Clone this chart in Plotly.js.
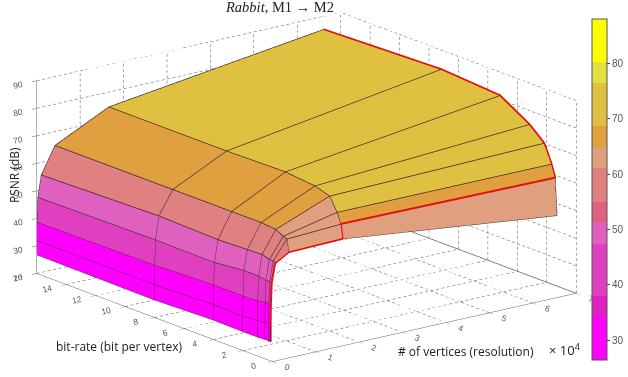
<!DOCTYPE html>
<html>
<head>
<meta charset="utf-8">
<script src="https://cdn.plot.ly/plotly-3.0.1.min.js"></script>
<style>html,body{margin:0;padding:0;background:#fff}</style>
</head>
<body>
<div id="myDiv" style="width:628px;height:377px"></div>
<script>
// resolution, x 10^4 vertices
var vertices = [0.0005, 0.002, 0.007, 0.026, 0.105, 0.42, 1.66, 6.6];
// bit per vertex
var bitRates = [0.125, 0.25, 0.5, 1, 2, 4, 8, 16];

// PSNR per bit-rate, one value for each resolution
var psnr0125 = [26.8, 33.0, 40.2, 48.0, 54.9, 57.8, 58.3, 49.3];
var psnr025 = [26.9, 33.5, 40.7, 48.4, 55.5, 62.4, 63.4, 62.7];
var psnr05 = [27.0, 33.0, 40.5, 48.4, 55.6, 62.9, 67.2, 67.2];
var psnr1 = [26.8, 32.9, 40.0, 48.8, 56.4, 64.4, 72.1, 73.8];
var psnr2 = [26.8, 32.4, 39.7, 48.9, 56.2, 64.9, 73.8, 78.6];
var psnr4 = [27.0, 32.6, 39.8, 47.8, 55.8, 64.9, 74.9, 85.1];
var psnr8 = [26.3, 31.9, 38.9, 48.0, 56.4, 64.9, 74.5, 86.6];
var psnr16 = [26.7, 31.9, 38.6, 47.5, 55.3, 64.9, 74.5, 85.1];
var psnr = [psnr0125, psnr025, psnr05, psnr1, psnr2, psnr4, psnr8, psnr16];

// optimal path, as indices into vertices and bitRates
var pathRes = [0, 1, 2, 3, 4, 5, 6, 6, 7, 7, 7, 7, 7, 7, 7];
var pathRate = [0, 0, 0, 0, 0, 0, 0, 1, 1, 2, 3, 4, 5, 6, 7];

var bandEdges = [26.4, 34.2, 38, 47.3, 51.3, 55, 61, 64.8, 68.7, 76.4, 80.3, 88];
var bandColors = ['rgb(255,0,255)', 'rgb(224,32,192)', 'rgb(224,64,192)', 'rgb(224,96,192)',
  'rgb(224,96,128)', 'rgb(224,128,128)', 'rgb(224,160,128)', 'rgb(224,160,64)',
  'rgb(224,192,64)', 'rgb(224,224,64)', 'rgb(255,255,0)'];

var xTicks = [0, 1, 2, 3, 4, 5, 6, 7];
var yTicks = [0, 2, 4, 6, 8, 10, 12, 14, 16];
var zTicks = [20, 30, 40, 50, 60, 70, 80, 90];

var nx = vertices.length, ny = bitRates.length;
var cmin = bandEdges[0], cmax = bandEdges[bandEdges.length - 1];

// stepped colour scale
var scale = [];
bandColors.forEach(function(c, n) {
  scale.push([(bandEdges[n] - cmin) / (cmax - cmin), c]);
  scale.push([(bandEdges[n + 1] - cmin) / (cmax - cmin), c]);
});

// vertices of the mesh
var vx = [], vy = [], vz = [];
for (var r = 0; r < ny; r++) {
  for (var c = 0; c < nx; c++) {
    vx.push(vertices[c]);
    vy.push(bitRates[r]);
    vz.push(psnr[r][c]);
  }
}

// two triangles per facet, coloured from one corner as surf does
var ti = [], tj = [], tk = [], cellColor = [];
for (r = 0; r < ny - 1; r++) {
  for (c = 0; c < nx - 1; c++) {
    var a = r * nx + c, b = a + 1, d = a + nx, e = d + 1;
    ti.push(a, a);
    tj.push(b, e);
    tk.push(e, d);
    cellColor.push(psnr[r + 1][c], psnr[r + 1][c]);
  }
}

var surface = {
  type: 'mesh3d',
  x: vx, y: vy, z: vz,
  i: ti, j: tj, k: tk,
  intensity: cellColor,
  intensitymode: 'cell',
  colorscale: scale,
  cmin: cmin, cmax: cmax,
  flatshading: true,
  lighting: {ambient: 1, diffuse: 0, specular: 0, fresnel: 0, roughness: 1},
  hoverinfo: 'skip',
  colorbar: {
    x: 592 / 628, xanchor: 'left', thickness: 15, thicknessmode: 'pixels',
    y: 0.5 - 0.5 * (19 + 360 - 377) / 377, yanchor: 'middle', len: 341 / 377, lenmode: 'fraction',
    tickvals: [30, 40, 50, 60, 70, 80],
    ticks: 'outside', ticklen: 3, tickcolor: '#444',
    tickfont: {family: 'Liberation Sans', size: 10, color: '#555'},
    outlinecolor: '#555', outlinewidth: 1, xpad: 0, ypad: 0
  }
};

// facet edges
var ex = [], ey = [], ez = [];
for (r = 0; r < ny; r++) {
  for (c = 0; c < nx; c++) { ex.push(vertices[c]); ey.push(bitRates[r]); ez.push(psnr[r][c] + 0.1); }
  ex.push(null); ey.push(null); ez.push(null);
}
for (c = 0; c < nx; c++) {
  for (r = 0; r < ny; r++) { ex.push(vertices[c]); ey.push(bitRates[r]); ez.push(psnr[r][c] + 0.1); }
  ex.push(null); ey.push(null); ez.push(null);
}
var edges = {
  type: 'scatter3d', mode: 'lines', x: ex, y: ey, z: ez,
  line: {color: '#3a2a2a', width: 1.5}, hoverinfo: 'skip', showlegend: false
};

var red = {
  type: 'scatter3d', mode: 'lines',
  x: pathRes.map(function(n) { return vertices[n]; }),
  y: pathRate.map(function(n) { return bitRates[n]; }),
  z: pathRes.map(function(n, m) { return psnr[pathRate[m]][n] + 0.2; }),
  line: {color: '#e01010', width: 4}, hoverinfo: 'skip', showlegend: false
};

// dashed box grid: floor and the two back walls, cut by hand into short pieces
var gx = [], gy = [], gz = [];
function seg(x0, y0, z0, x1, y1, z1, n) {
  for (var q = 0; q < n; q++) {
    var t0 = q / n, t1 = (q + 0.55) / n;
    gx.push(x0 + (x1 - x0) * t0, x0 + (x1 - x0) * t1, null);
    gy.push(y0 + (y1 - y0) * t0, y0 + (y1 - y0) * t1, null);
    gz.push(z0 + (z1 - z0) * t0, z0 + (z1 - z0) * t1, null);
  }
}
var xMax = 7, yMax = 16, zMin = 20, zMax = 90;
xTicks.forEach(function(t) {
  seg(t, 0, zMin, t, yMax, zMin, 46);
  seg(t, yMax, zMin, t, yMax, zMax, 36);
});
yTicks.forEach(function(t) {
  seg(0, t, zMin, xMax, t, zMin, 56);
  seg(xMax, t, zMin, xMax, t, zMax, 36);
});
zTicks.forEach(function(t) {
  seg(0, yMax, t, xMax, yMax, t, 56);
  seg(xMax, 0, t, xMax, yMax, t, 46);
});
var grid = {
  type: 'scatter3d', mode: 'lines', x: gx, y: gy, z: gz,
  line: {color: '#555', width: 1}, hoverinfo: 'skip', showlegend: false
};

// the floor edge behind the surface is solid
var floorEdge = {
  type: 'scatter3d', mode: 'lines',
  x: [xMax, xMax], y: [0, yMax], z: [zMin, zMin],
  line: {color: '#666', width: 1.5}, hoverinfo: 'skip', showlegend: false
};

function axis(range, ticks) {
  return {
    range: range, tickvals: ticks, ticktext: ticks.map(String),
    showgrid: false, zeroline: false, showbackground: false, showspikes: false,
    showline: true, linecolor: '#666', linewidth: 1,
    ticks: 'outside', ticklen: 6, tickcolor: '#666',
    tickfont: {family: 'Liberation Sans', size: 10, color: '#555'},
    title: {text: ''}
  };
}

var labelFont = {family: 'Open Sans', size: 12, color: '#222'};
function note(text, px, py, extra) {
  var n = {text: text, x: px / 628, y: 1 - py / 377, xref: 'paper', yref: 'paper',
    xanchor: 'center', yanchor: 'middle', showarrow: false, font: labelFont};
  return Object.assign(n, extra || {});
}
var layout = {
  width: 628, height: 377,
  margin: {l: 0, r: 0, t: 0, b: 0, autoexpand: false},
  paper_bgcolor: '#fff',
  showlegend: false,
  title: {
    text: '<i>Rabbit</i>, M1 → M2',
    font: {family: 'Liberation Serif', size: 14.5, color: '#222'},
    x: 280 / 628, xanchor: 'center', y: 0.995, yanchor: 'top'
  },
  scene: {
    domain: {x: [0, 0.976], y: [0.007, 1]},
    aspectmode: 'manual',
    aspectratio: {x: 2.056, y: 2.056, z: 1.077},
    camera: {
      projection: {type: 'orthographic'},
      up: {x: 0, y: 0, z: 1},
      center: {x: 0, y: 0, z: 0},
      eye: {x: -1.76, y: -2.27, z: 0.87}
    },
    xaxis: axis([0, 7], xTicks),
    yaxis: axis([0, 16], yTicks),
    zaxis: axis([20, 90], zTicks)
  },
  annotations: [
    note('PSNR (dB)', 14, 175, {textangle: -90}),
    note('bit-rate (bit per vertex)', 119, 346),
    note('# of vertices (resolution)', 466, 351),
    note('× 10<sup>4</sup>', 565, 349, {font: {family: 'Open Sans', size: 13, color: '#222'}})
  ]
};

Plotly.newPlot('myDiv', [grid, floorEdge, surface, edges, red], layout, {displayModeBar: false});
</script>
</body>
</html>
